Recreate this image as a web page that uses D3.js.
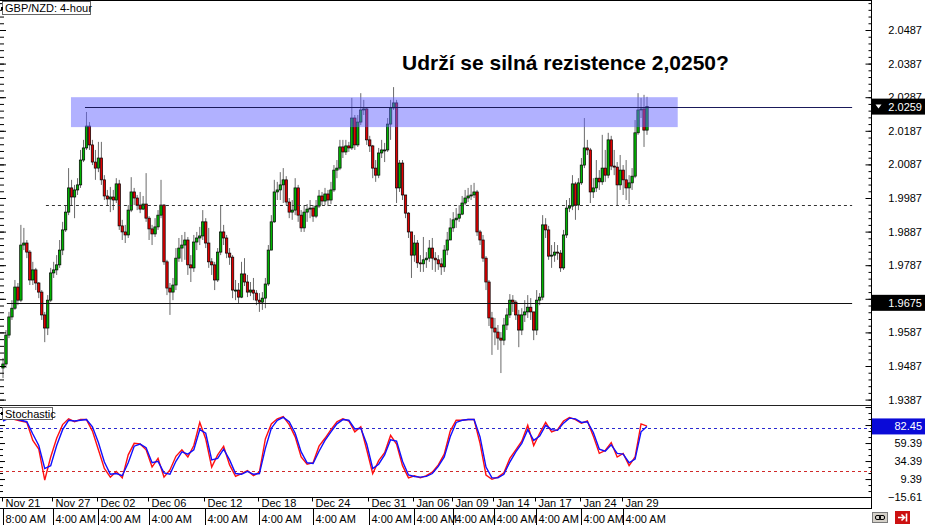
<!DOCTYPE html>
<html><head><meta charset="utf-8">
<script src="https://cdn.jsdelivr.net/npm/d3@7"></script>
<style>body{margin:0;background:#fff;} svg{display:block;}</style>
</head><body><svg id="c" width="925" height="525"></svg>
<script>
// ---------------- DATA ----------------
const symbolLabel = "GBP/NZD: 4-hour";
const title = "Udrží se silná rezistence 2,0250?";
const firstOpen = 1.9481;
const closes = [
1.9493,1.9579,1.9633,1.9659,1.9722,1.9683,1.9847,1.9853,1.9826,1.9743,
1.9773,1.9734,1.9707,1.9639,1.9600,1.9683,1.9764,1.9773,1.9788,1.9832,
1.9892,1.9945,2.0017,1.9990,2.0011,2.0026,2.0100,2.0136,2.0201,2.0145,
2.0094,2.0076,2.0106,2.0041,1.9993,1.9984,1.9990,1.9981,2.0029,1.9904,
1.9886,1.9877,1.9951,2.0005,1.9987,1.9966,1.9954,1.9969,1.9927,1.9895,
1.9880,1.9901,1.9936,1.9966,1.9797,1.9719,1.9707,1.9728,1.9808,1.9838,
1.9847,1.9862,1.9788,1.9779,1.9856,1.9868,1.9874,1.9916,1.9853,1.9797,
1.9788,1.9743,1.9826,1.9886,1.9868,1.9823,1.9811,1.9713,1.9713,1.9692,
1.9761,1.9737,1.9707,1.9713,1.9704,1.9683,1.9677,1.9689,1.9731,1.9832,
1.9916,2.0005,2.0011,2.0026,2.0041,1.9975,1.9945,1.9951,2.0017,1.9936,
1.9898,1.9945,1.9954,1.9957,1.9933,1.9963,1.9993,1.9978,1.9999,1.9981,
2.0011,2.0070,2.0076,2.0139,2.0124,2.0142,2.0136,2.0225,2.0145,2.0213,
2.0249,2.0252,2.0160,2.0142,2.0076,2.0055,2.0121,2.0130,2.0130,2.0207,
2.0255,2.0270,2.0017,2.0091,1.9996,1.9942,1.9886,1.9817,1.9853,1.9794,
1.9791,1.9803,1.9808,1.9838,1.9808,1.9803,1.9791,1.9782,1.9832,1.9862,
1.9898,1.9922,1.9927,1.9939,1.9972,1.9987,1.9993,1.9996,2.0005,1.9886,
1.9862,1.9808,1.9737,1.9630,1.9600,1.9588,1.9570,1.9564,1.9609,1.9639,
1.9683,1.9677,1.9639,1.9594,1.9639,1.9648,1.9662,1.9648,1.9594,1.9683,
1.9692,1.9907,1.9892,1.9814,1.9817,1.9826,1.9823,1.9779,1.9877,1.9957,
1.9963,2.0029,1.9966,2.0032,2.0085,2.0136,2.0130,2.0005,2.0017,2.0046,
2.0035,2.0076,2.0055,2.0160,2.0082,2.0079,2.0026,2.0070,2.0041,2.0017,
2.0032,2.0052,2.0181,2.0249,2.0252,2.0189,2.0259];
const highs = [
1.9511,1.9594,1.9648,1.9683,1.9743,1.9734,1.9907,1.9898,1.9862,1.9832,
1.9797,1.9779,1.9737,1.9713,1.9648,1.9698,1.9779,1.9797,1.9817,1.9862,
1.9916,1.9966,2.0076,2.0041,2.0026,2.0046,2.0130,2.0160,2.0243,2.0213,
2.0160,2.0130,2.0154,2.0154,2.0055,2.0011,2.0020,2.0011,2.0046,2.0041,
1.9922,1.9907,1.9966,2.0049,2.0017,1.9996,2.0005,1.9993,2.0061,1.9933,
1.9907,1.9927,1.9951,2.0041,1.9969,1.9803,1.9734,1.9749,1.9838,1.9868,
1.9877,1.9886,1.9871,1.9817,1.9877,1.9886,1.9901,1.9951,1.9927,1.9898,
1.9808,1.9797,1.9838,1.9966,1.9907,1.9877,1.9838,1.9817,1.9743,1.9734,
1.9797,1.9808,1.9758,1.9737,1.9749,1.9713,1.9704,1.9707,1.9749,1.9847,
1.9936,2.0041,2.0035,2.0064,2.0076,2.0052,1.9987,1.9981,2.0046,2.0026,
1.9951,1.9966,1.9969,1.9981,1.9966,1.9981,2.0011,2.0005,2.0017,2.0011,
2.0035,2.0085,2.0100,2.0160,2.0160,2.0160,2.0154,2.0285,2.0234,2.0234,
2.0299,2.0279,2.0255,2.0172,2.0145,2.0100,2.0136,2.0160,2.0151,2.0225,
2.0279,2.0317,2.0279,2.0100,2.0100,1.9996,1.9945,1.9886,1.9877,1.9862,
1.9817,1.9871,1.9826,1.9862,1.9868,1.9826,1.9817,1.9808,1.9847,1.9886,
1.9927,1.9945,1.9957,1.9966,1.9993,2.0011,2.0017,2.0026,2.0032,2.0011,
1.9892,1.9877,1.9814,1.9743,1.9648,1.9630,1.9609,1.9588,1.9630,1.9659,
1.9701,1.9698,1.9683,1.9654,1.9659,1.9683,1.9698,1.9689,1.9648,1.9713,
1.9704,1.9936,1.9927,1.9904,1.9847,1.9856,1.9847,1.9832,1.9892,1.9981,
1.9987,2.0055,2.0035,2.0046,2.0106,2.0225,2.0160,2.0136,2.0046,2.0100,
2.0070,2.0175,2.0130,2.0181,2.0172,2.0130,2.0094,2.0115,2.0085,2.0100,
2.0055,2.0076,2.0219,2.0299,2.0285,2.0294,2.0288];
const lows = [
1.9451,1.9481,1.9570,1.9624,1.9654,1.9668,1.9677,1.9832,1.9808,1.9728,
1.9728,1.9713,1.9689,1.9624,1.9558,1.9579,1.9677,1.9749,1.9758,1.9779,
1.9817,1.9886,1.9936,1.9966,1.9927,1.9996,2.0017,2.0094,2.0130,2.0130,
2.0085,2.0041,2.0064,2.0026,1.9981,1.9966,1.9945,1.9951,1.9972,1.9892,
1.9862,1.9853,1.9868,1.9945,1.9966,1.9951,1.9942,1.9951,1.9916,1.9862,
1.9847,1.9871,1.9892,1.9927,1.9788,1.9698,1.9639,1.9683,1.9713,1.9797,
1.9797,1.9803,1.9758,1.9737,1.9767,1.9832,1.9847,1.9862,1.9838,1.9779,
1.9758,1.9713,1.9737,1.9817,1.9847,1.9808,1.9788,1.9689,1.9683,1.9674,
1.9689,1.9725,1.9692,1.9695,1.9683,1.9668,1.9648,1.9654,1.9659,1.9725,
1.9832,1.9913,1.9981,1.9981,1.9972,1.9966,1.9927,1.9922,1.9936,1.9916,
1.9886,1.9886,1.9916,1.9927,1.9916,1.9927,1.9957,1.9966,1.9966,1.9963,
1.9969,2.0005,2.0046,2.0070,2.0106,2.0115,2.0124,2.0130,2.0130,2.0139,
2.0204,2.0234,2.0145,2.0124,2.0046,2.0035,2.0046,2.0106,2.0094,2.0124,
2.0160,2.0249,1.9972,2.0005,1.9981,1.9927,1.9868,1.9749,1.9797,1.9779,
1.9767,1.9767,1.9779,1.9797,1.9773,1.9767,1.9773,1.9758,1.9767,1.9817,
1.9862,1.9886,1.9898,1.9916,1.9936,1.9966,1.9975,1.9981,1.9987,1.9874,
1.9847,1.9797,1.9713,1.9606,1.9520,1.9549,1.9535,1.9466,1.9549,1.9594,
1.9630,1.9648,1.9624,1.9543,1.9579,1.9618,1.9630,1.9624,1.9564,1.9579,
1.9668,1.9683,1.9868,1.9803,1.9779,1.9797,1.9803,1.9767,1.9773,1.9868,
1.9945,1.9951,1.9922,1.9951,2.0026,2.0076,2.0115,1.9972,1.9987,2.0005,
2.0011,2.0026,2.0035,2.0046,2.0070,2.0055,1.9966,2.0011,1.9996,1.9981,
1.9969,2.0011,2.0046,2.0175,2.0225,2.0139,2.0175];

const priceTicks = [2.0487,2.0387,2.0287,2.0187,2.0087,1.9987,1.9887,1.9787,1.9687,1.9587,1.9487,1.9387];
const lastPrice = 2.0259;
const supportPrice = 1.9675;
const dashedPrice = 1.9966;
const zoneHigh = 2.0287, zoneLow = 2.0198;
const zoneBars = [22.8, 226.3];
const resistanceStartBar = 27.5, dashedStartBar = 14.4, supportStartBar = 1.3, lineEndBar = 284.8;

// stochastic, one value every 2nd bar
const stochK = [
92,95,92,90,88,63,51,8,40,66,
85,93,89,92,92,76,50,24,12,20,
11,43,59,58,50,26,38,12,22,41,
50,40,56,88,65,26,43,55,29,13,
17,21,14,19,65,86,93,96,85,68,
40,30,32,55,66,78,89,93,90,75,
82,50,17,35,46,70,58,28,11,14,
11,14,19,29,44,76,91,91,92,92,
59,15,9,12,18,38,50,62,84,56,
73,88,75,78,90,95,92,87,90,69,
45,49,60,40,45,28,40,86,83];
const stochD = [
90,94,93,91,89,72,56,24,28,56,
78,91,90,91,92,82,60,33,16,17,
14,32,55,58,53,32,34,18,16,34,
47,44,50,78,73,36,38,51,36,17,
16,20,16,17,52,80,91,95,89,73,
47,32,31,48,63,75,86,92,91,79,
80,58,24,30,43,64,62,34,15,13,
12,13,17,27,40,68,88,91,92,92,
68,26,11,11,16,33,47,59,78,63,
69,84,78,77,87,94,93,88,89,74,
51,48,57,45,44,32,37,75,82.45];
const stochTicks = [84.39,59.39,34.39,9.39,-15.61];
const stochCurrent = 82.45;
const stochLevelHigh = 80, stochLevelLow = 20;

const timeBars = [0,17,32,49,68,86,104,123,138,151,165,179,194,208];
const dateLabels = ["Nov 21","Nov 27","Dec 02","Dec 06","Dec 12","Dec 18","Dec 24","Dec 31","Jan 06","Jan 09","Jan 14","Jan 17","Jan 24","Jan 29"];
const timeLabels = ["8:00 AM","4:00 AM","4:00 AM","4:00 AM","4:00 AM","4:00 AM","4:00 AM","4:00 AM","4:00 AM","4:00 AM","4:00 AM","4:00 AM","4:00 AM","4:00 AM"];

// ---------------- CHART ----------------
const FONT = '"Liberation Sans", Arial, sans-serif';
const svg = d3.select('#c').attr('font-family', FONT);
const AX = 871.5, MB = 405.5, ST = 406, SB = 497.5, RB = 508.5;
const N = closes.length;
const x = d3.scaleLinear().domain([0, N - 1]).range([3, 647]);
const y = d3.scaleLinear().domain([2.0487, 1.9387]).range([30, 399.6]);
const ys = d3.scaleLinear().domain([0, 100]).range([485.8, 413.8]);

svg.append('rect').attr('width', 925).attr('height', 525).attr('fill', '#fff');

const defs = svg.append('defs');
defs.append('clipPath').attr('id', 'mainClip').append('rect')
  .attr('x', 0).attr('y', 1).attr('width', AX).attr('height', MB - 1.5);
defs.append('clipPath').attr('id', 'stClip').append('rect')
  .attr('x', 0).attr('y', ST).attr('width', AX).attr('height', SB - ST);

// candles
const main = svg.append('g').attr('clip-path', 'url(#mainClip)');
const candles = closes.map((c, i) => ({ i, o: i ? closes[i - 1] : firstOpen, c, h: highs[i], l: lows[i] }));
main.selectAll('line.wick').data(candles).join('line').attr('class', 'wick')
  .attr('x1', d => x(d.i)).attr('x2', d => x(d.i))
  .attr('y1', d => y(d.h)).attr('y2', d => y(d.l))
  .attr('stroke', '#6a6a6a').attr('stroke-width', 1);
main.selectAll('rect.body').data(candles).join('rect').attr('class', 'body')
  .attr('x', d => x(d.i) - 1.2).attr('width', 2.4)
  .attr('y', d => y(Math.max(d.o, d.c)))
  .attr('height', d => Math.max(1, Math.abs(y(d.o) - y(d.c))))
  .attr('fill', d => d.c >= d.o ? '#00b400' : '#e00000')
  .attr('stroke', '#000').attr('stroke-width', 0.7);

// resistance zone
main.append('rect')
  .attr('x', x(zoneBars[0])).attr('width', x(zoneBars[1]) - x(zoneBars[0]))
  .attr('y', y(zoneHigh)).attr('height', y(zoneLow) - y(zoneHigh))
  .attr('fill', '#6464ff').attr('opacity', 0.5);

// horizontal lines
main.append('line').attr('x1', x(resistanceStartBar)).attr('x2', x(lineEndBar))
  .attr('y1', Math.round(y(lastPrice)) + 0.5).attr('y2', Math.round(y(lastPrice)) + 0.5)
  .attr('stroke', '#1a1a5a').attr('stroke-width', 1);
main.append('line').attr('x1', x(dashedStartBar)).attr('x2', x(lineEndBar))
  .attr('y1', Math.round(y(dashedPrice)) + 0.5).attr('y2', Math.round(y(dashedPrice)) + 0.5)
  .attr('stroke', '#333').attr('stroke-width', 1).attr('stroke-dasharray', '3,3');
main.append('line').attr('x1', x(supportStartBar)).attr('x2', x(lineEndBar))
  .attr('y1', Math.round(y(supportPrice)) + 0.5).attr('y2', Math.round(y(supportPrice)) + 0.5)
  .attr('stroke', '#111').attr('stroke-width', 1);

// title
svg.append('text').attr('x', 402).attr('y', 70).text(title)
  .attr('font-size', 21).attr('font-weight', 'bold').attr('fill', '#000');

// price ticks (left & right)
const kRange = d3.range(-55, 5);
const minorP = kRange.map(k => +(2.0487 + k * 0.002).toFixed(4));
const majorP = kRange.filter(k => k % 5 === 0).map(k => +(2.0487 + k * 0.002).toFixed(4));
function tickGroup(axis, tx) {
  svg.append('g').attr('transform', `translate(${tx},0)`).call(axis)
    .call(g => { g.select('.domain').remove(); g.selectAll('line').attr('stroke', '#000'); });
}
tickGroup(d3.axisLeft(y).tickValues(minorP).tickSize(3).tickFormat(''), AX);
tickGroup(d3.axisLeft(y).tickValues(majorP).tickSize(6).tickFormat(''), AX);
tickGroup(d3.axisRight(y).tickValues(minorP).tickSize(4).tickFormat(''), 0);
tickGroup(d3.axisRight(y).tickValues(majorP).tickSize(6).tickFormat(''), 0);

// price labels
svg.append('g').attr('transform', `translate(${AX},0)`)
  .call(d3.axisRight(y).tickValues(priceTicks).tickSize(0).tickFormat(d3.format('.4f')))
  .call(g => {
    g.select('.domain').remove();
    g.attr('font-size', 11).attr('font-family', FONT);
    g.selectAll('text').attr('x', 50.5).attr('text-anchor', 'end').attr('fill', '#000');
  });

// price boxes
function priceBox(val, txt, fill, tri, scale) {
  const cy = scale(val);
  svg.append('rect').attr('x', AX + 0.5).attr('y', cy - 8).attr('width', 925 - AX).attr('height', 16).attr('fill', fill);
  svg.append('text').attr('x', 922).attr('y', cy + 4).attr('text-anchor', 'end')
    .attr('font-size', 11).attr('fill', '#fff').text(txt);
  if (tri) {
    svg.append('path').attr('d', `M${AX + 4},${cy - 2} h6 l-3,4 z`).attr('fill', '#fff');
  }
}
priceBox(lastPrice, d3.format('.4f')(lastPrice), '#000', true, y);
priceBox(supportPrice, d3.format('.4f')(supportPrice), '#000', false, y);

// top-left symbol label
svg.append('rect').attr('x', 2.5).attr('y', 1.5).attr('width', 88).attr('height', 13)
  .attr('fill', '#fff').attr('stroke', '#666');
svg.append('rect').attr('x', 1).attr('y', 7).attr('width', 2).attr('height', 3).attr('fill', '#000');
svg.append('text').attr('x', 5).attr('y', 12).attr('font-size', 11).text(symbolLabel);

// frame lines
svg.append('line').attr('x1', 0).attr('x2', AX).attr('y1', 0.5).attr('y2', 0.5).attr('stroke', '#000');
svg.append('line').attr('x1', 0).attr('x2', AX).attr('y1', MB).attr('y2', MB).attr('stroke', '#222').attr('stroke-width', 1.2);
svg.append('line').attr('x1', AX).attr('x2', AX).attr('y1', 0).attr('y2', RB).attr('stroke', '#000');

// ---------------- STOCHASTIC ----------------
const st = svg.append('g').attr('clip-path', 'url(#stClip)');
st.append('line').attr('x1', 0).attr('x2', AX)
  .attr('y1', Math.round(ys(stochLevelHigh)) + 0.5).attr('y2', Math.round(ys(stochLevelHigh)) + 0.5)
  .attr('stroke', '#2a2ad0').attr('stroke-dasharray', '3,3');
st.append('line').attr('x1', 0).attr('x2', AX)
  .attr('y1', Math.round(ys(stochLevelLow)) + 0.5).attr('y2', Math.round(ys(stochLevelLow)) + 0.5)
  .attr('stroke', '#d02a2a').attr('stroke-dasharray', '3,3');
const sline = d3.line().x((d, k) => x(2 * k)).y(d => ys(d)).curve(d3.curveLinear);
st.append('path').datum(stochK).attr('d', sline).attr('fill', 'none').attr('stroke', '#ff1010').attr('stroke-width', 1.4);
st.append('path').datum(stochD).attr('d', sline).attr('fill', 'none').attr('stroke', '#1010ff').attr('stroke-width', 1.4);

// stochastic ticks
const mRange = d3.range(-8, 7);
const minorS = mRange.map(m => 59.39 + m * 25 / 3);
const majorS = mRange.filter(m => m % 3 === 0).map(m => 59.39 + m * 25 / 3);
tickGroup(d3.axisLeft(ys).tickValues(minorS).tickSize(3).tickFormat(''), AX);
tickGroup(d3.axisLeft(ys).tickValues(majorS).tickSize(6).tickFormat(''), AX);
tickGroup(d3.axisRight(ys).tickValues(minorS).tickSize(3).tickFormat(''), 0);
tickGroup(d3.axisRight(ys).tickValues(majorS).tickSize(5).tickFormat(''), 0);

svg.append('g').attr('transform', `translate(${AX},0)`)
  .call(d3.axisRight(ys).tickValues(stochTicks).tickSize(0).tickFormat(d3.format('.2f')))
  .call(g => {
    g.select('.domain').remove();
    g.attr('font-size', 11).attr('font-family', FONT);
    g.selectAll('text').attr('x', 50.5).attr('text-anchor', 'end').attr('fill', '#000');
  });
priceBox(stochCurrent, d3.format('.2f')(stochCurrent), '#0a0ad8', false, ys);

svg.append('rect').attr('x', 2.5).attr('y', 407.5).attr('width', 50).attr('height', 12)
  .attr('fill', '#fff').attr('stroke', '#666');
svg.append('rect').attr('x', 1).attr('y', 412).attr('width', 2).attr('height', 3).attr('fill', '#000');
svg.append('text').attr('x', 5).attr('y', 418).attr('font-size', 11).text('Stochastic');

// stoch bottom border
svg.append('line').attr('x1', 0).attr('x2', AX).attr('y1', SB).attr('y2', SB).attr('stroke', '#000');

// ---------------- TIME AXIS ----------------
const tg = svg.append('g');
const tData = timeBars.map((b, i) => ({ b, date: dateLabels[i], time: timeLabels[i] }));
const sepX = d => Math.round(x(d.b) - 1.5) + 0.5;
tg.selectAll('line.dt').data(tData).join('line').attr('class', 'dt')
  .attr('x1', sepX).attr('x2', sepX).attr('y1', SB).attr('y2', SB + 4).attr('stroke', '#000');
tg.selectAll('text.date').data(tData).join('text').attr('class', 'date')
  .attr('x', d => sepX(d) + 3).attr('y', 507).attr('font-size', 11).text(d => d.date);
svg.append('line').attr('x1', 0).attr('x2', AX + 0.5).attr('y1', RB).attr('y2', RB).attr('stroke', '#000');
tg.selectAll('line.tt').data(tData).join('line').attr('class', 'tt')
  .attr('x1', d => sepX(d) + 1).attr('x2', d => sepX(d) + 1).attr('y1', RB).attr('y2', 525).attr('stroke', '#000');
tg.selectAll('text.time').data(tData).join('text').attr('class', 'time')
  .attr('x', d => sepX(d) + 3).attr('y', 523).attr('font-size', 11).text(d => d.time);

// bottom right icons
svg.append('rect').attr('x', 872.5).attr('y', 512.5).attr('width', 15).attr('height', 10)
  .attr('fill', '#d4d0c8').attr('stroke', '#7a7a7a');
svg.append('rect').attr('x', 875.5).attr('y', 515.5).attr('width', 5).attr('height', 4).attr('rx', 1.5)
  .attr('fill', 'none').attr('stroke', '#000');
svg.append('rect').attr('x', 879.5).attr('y', 515.5).attr('width', 5).attr('height', 4).attr('rx', 1.5)
  .attr('fill', 'none').attr('stroke', '#000');
svg.append('rect').attr('x', 895).attr('y', 511).attr('width', 15).attr('height', 13).attr('fill', '#cc1111');
svg.append('path').attr('d', 'M898,517.5 h6 M901.5,514.5 l3,3 l-3,3 M906.5,513.5 v8')
  .attr('stroke', '#fff').attr('stroke-width', 1.6).attr('fill', 'none');
</script></body></html>
